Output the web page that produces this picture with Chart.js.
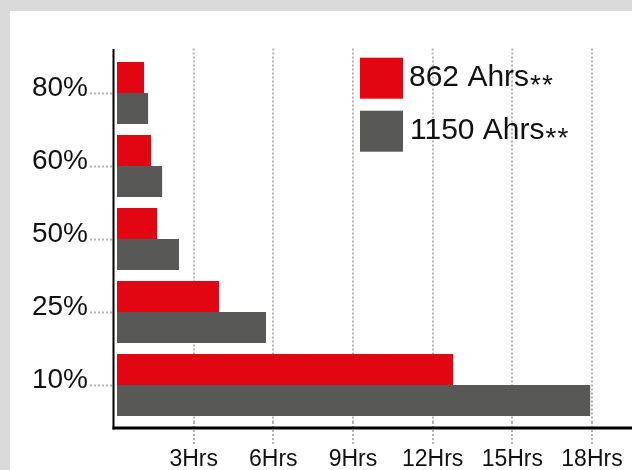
<!DOCTYPE html>
<html>
<head>
<meta charset="utf-8">
<script src="https://cdn.jsdelivr.net/npm/chart.js@4"></script>
<style>
  body { margin: 0; background: #dadada; width: 632px; height: 470px; overflow: hidden; }
  #wrap { position: absolute; left: 10px; top: 11px; width: 622px; height: 459px; background: #fff; }
</style>
</head>
<body>
<div id="wrap"><canvas id="chart" width="622" height="459"></canvas></div>
<script>
const categories = ["80%", "60%", "50%", "25%", "10%"];
const seriesNames = ["862 Ahrs**", "1150 Ahrs**"];
const ahr862 = [1.14, 1.40, 1.63, 3.96, 12.78];
const ahr1150 = [1.29, 1.82, 2.45, 5.73, 17.94];
const hourTicks = ["", "3Hrs", "6Hrs", "9Hrs", "12Hrs", "15Hrs", "18Hrs"];

const RED = "#e20613";
const GREY = "#585857";
const DOTS = "#b4b4b4";
const FONT = "'Liberation Sans', Arial, sans-serif";

// axis lines a bit longer than the plot, plus the legend drawn inside the plot
const extras = {
  id: "extras",
  afterDraw(chart) {
    const ctx = chart.ctx;
    const a = chart.chartArea;
    const x = chart.scales.x;
    ctx.save();

    // grid lines continue a little above the plot
    ctx.strokeStyle = DOTS;
    ctx.lineWidth = 2;
    ctx.setLineDash([2, 2]);
    x.ticks.forEach(t => {
      if (t.value === 0) return;
      const px = x.getPixelForValue(t.value);
      ctx.beginPath();
      ctx.moveTo(px, a.top - 8);
      ctx.lineTo(px, a.top);
      ctx.stroke();
    });
    ctx.setLineDash([]);

    ctx.strokeStyle = "#000";
    ctx.lineWidth = 2;
    ctx.beginPath();
    ctx.moveTo(a.left - 0.5, a.top - 7.5);
    ctx.lineTo(a.left - 0.5, a.bottom + 8);
    ctx.stroke();
    ctx.lineWidth = 3;
    ctx.beginPath();
    ctx.moveTo(a.left - 1.5, a.bottom + 6.5);
    ctx.lineTo(chart.width, a.bottom + 6.5);
    ctx.stroke();

    // legend
    const colors = [RED, GREY];
    seriesNames.forEach((name, i) => {
      const top = 46.7 + i * 53;
      ctx.fillStyle = colors[i];
      ctx.fillRect(350, top, 43, 41);
      const main = name.replace("**", "");
      ctx.fillStyle = "#111";
      ctx.textBaseline = "alphabetic";
      ctx.textAlign = "left";
      ctx.font = "30px " + FONT;
      ctx.fillText(main, 399 + i * 1, top + 28);
      const w = ctx.measureText(main).width;
      ctx.font = "28px " + FONT;
      ctx.fillText("*", 399 + i + w + 1, top + 36);
      ctx.fillText("*", 399 + i + w + 13, top + 36);
    });
    ctx.restore();
  }
};

const hideZero = c => (c.tick && c.tick.value === 0) ? "rgba(0,0,0,0)" : DOTS;

new Chart(document.getElementById("chart"), {
  type: "bar",
  data: {
    labels: categories,
    datasets: [
      {
        label: seriesNames[0],
        data: ahr862,
        backgroundColor: RED,
        borderColor: "#fff",
        borderWidth: { left: 2, right: 0, top: 0, bottom: 0 },
        borderSkipped: false
      },
      {
        label: seriesNames[1],
        data: ahr1150,
        backgroundColor: GREY,
        borderColor: "#fff",
        borderWidth: { left: 2, right: 0, top: 0, bottom: 0 },
        borderSkipped: false
      }
    ]
  },
  options: {
    indexAxis: "y",
    responsive: false,
    animation: false,
    layout: { padding: { top: 45.5, right: 40, left: 0, bottom: 0 } },
    plugins: { legend: { display: false }, tooltip: { enabled: false } },
    datasets: { bar: { categoryPercentage: 0.85, barPercentage: 1 } },
    scales: {
      x: {
        min: 0,
        max: 18,
        z: 1,
        ticks: {
          stepSize: 3,
          padding: 0,
          color: "#111",
          font: { family: FONT, size: 23 },
          maxRotation: 0,
          callback: (v, i) => hourTicks[i]
        },
        grid: {
          color: hideZero,
          lineWidth: 2,
          tickLength: 24,
          tickColor: hideZero,
          tickWidth: 2,
          tickBorderDash: [2, 2]
        },
        border: { display: false, dash: [2, 2] },
        afterFit(s) { s.height = 48.5; }
      },
      y: {
        ticks: {
          padding: 2,
          labelOffset: -5,
          color: "#111",
          font: { family: FONT, size: 28 }
        },
        grid: {
          offset: false,
          drawOnChartArea: false,
          tickLength: 24,
          tickColor: DOTS,
          tickWidth: 2,
          tickBorderDash: [2, 2]
        },
        border: { display: false },
        afterFit(s) { s.width = 104; }
      }
    }
  },
  plugins: [extras]
});
</script>
</body>
</html>
